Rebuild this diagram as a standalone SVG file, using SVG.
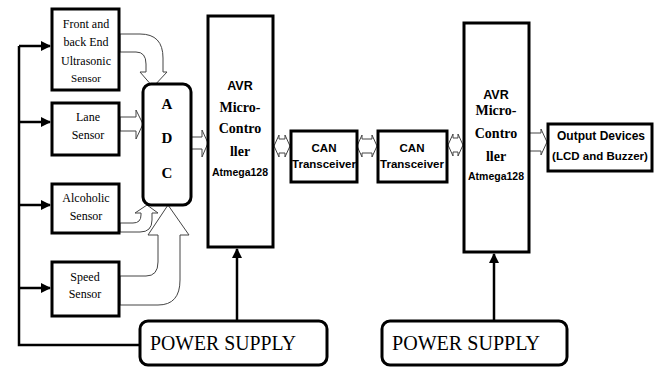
<svg xmlns="http://www.w3.org/2000/svg" width="661" height="367" viewBox="0 0 661 367">
<style>
.box{fill:#fff;stroke:#000;stroke-width:3}
.serif{font-family:"Liberation Serif","Times New Roman",serif;fill:#000;text-anchor:middle}
.sans{font-family:"Liberation Sans",Arial,sans-serif;fill:#000;text-anchor:middle;font-weight:bold}
.sens{font-size:12px}
.sb{font-family:"Liberation Serif","Times New Roman",serif;font-weight:700;fill:#000;text-anchor:middle}
.hollow{fill:#fff;stroke:#444;stroke-width:1}
.bus{fill:none;stroke:#000;stroke-width:2.5}
</style>
<defs>
<marker id="ah" viewBox="0 0 10 10" refX="9" refY="5" markerWidth="4" markerHeight="4" orient="auto" markerUnits="strokeWidth">
<path d="M0,0 L10,5 L0,10 Z" fill="#000"/>
</marker>
</defs>
<rect width="661" height="367" fill="#fff"/>

<g id="connectors">
<path class="bus" d="M19,46 V345 H140"/>
<line class="bus" x1="19" y1="46" x2="50" y2="46" marker-end="url(#ah)"/>
<line class="bus" x1="19" y1="122" x2="50" y2="122" marker-end="url(#ah)"/>
<line class="bus" x1="19" y1="205" x2="50" y2="205" marker-end="url(#ah)"/>
<line class="bus" x1="19" y1="288" x2="50" y2="288" marker-end="url(#ah)"/>
<line class="bus" x1="237" y1="321" x2="237" y2="249" marker-end="url(#ah)"/>
<line class="bus" x1="494" y1="321" x2="494" y2="254" marker-end="url(#ah)"/>

<path class="hollow" d="M120,34 H140 Q163,34 163,58 V72 H167 L153,87 L140,72 H146 V64 Q146,52 136,52 H120 Z"/>
<path class="hollow" d="M120,117 H136 V110 L143,124 L136,139 V131 H120 Z"/>
<path class="hollow" d="M191,137 H202 V130 L208,143 L202,157 V149 H191 Z"/>
<path class="hollow" d="M120,223 H133 Q141,223 141,215 V213 H135 L147,205 L158,213 H152 V220 Q152,232 140,232 H120 Z"/>
<path class="hollow" d="M120,276 H146 Q158,276 158,262 V235 H148 L168,205 L189,235 H180 V280 Q180,305 158,305 H120 Z"/>

<path class="hollow" d="M274,146 L279,135 V139 H285 V135 L290,146 L285,157 V153 H279 V157 Z"/>
<path class="hollow" d="M357,146 L362,135 V139 H372 V135 L377,146 L372,157 V153 H362 V157 Z"/>
<path class="hollow" d="M448,145 L453,134 V138 H458 V134 L463,145 L458,156 V152 H453 V156 Z"/>
<path class="hollow" d="M529,133 H541 V129 L547,142 L541,155 V151 H529 Z"/>
</g>

<g id="front-sensor">
<rect class="box" x="52" y="9" width="67" height="81"/>
<text class="serif sens" x="86" y="28">Front and</text>
<text class="serif sens" x="86" y="46">back End</text>
<text class="serif sens" x="86" y="65">Ultrasonic</text>
<text class="serif" x="86" y="82" font-size="11">Sensor</text>
</g>

<g id="lane-sensor">
<rect class="box" x="52" y="103" width="67" height="52"/>
<text class="serif sens" x="88" y="121">Lane</text>
<text class="serif sens" x="88" y="139">Sensor</text>
</g>

<g id="alcoholic-sensor">
<rect class="box" x="52" y="184" width="67" height="49"/>
<text class="serif sens" x="86" y="202">Alcoholic</text>
<text class="serif sens" x="86" y="220">Sensor</text>
</g>

<g id="speed-sensor">
<rect class="box" x="52" y="262" width="67" height="54"/>
<text class="serif sens" x="85" y="281">Speed</text>
<text class="serif sens" x="85" y="298">Sensor</text>
</g>

<g id="adc">
<rect class="box" x="143" y="84" width="48" height="121" rx="8"/>
<text class="sb" x="167" y="109" font-size="15">A</text>
<text class="sb" x="167" y="143" font-size="15">D</text>
<text class="sb" x="167" y="178" font-size="15">C</text>
</g>

<g id="avr1">
<rect class="box" x="208" y="16" width="65" height="231"/>
<text class="sans" x="240" y="90" font-size="12.5">AVR</text>
<text class="sb" x="240" y="112" font-size="14">Micro-</text>
<text class="sb" x="240" y="133" font-size="14">Contro</text>
<text class="sb" x="240" y="156" font-size="14">ller</text>
<text class="sans" x="240" y="176" font-size="10.5">Atmega128</text>
</g>

<g id="can1">
<rect class="box" x="291" y="131" width="66" height="51"/>
<text class="sans" x="324" y="152" font-size="11.5">CAN</text>
<text class="sans" x="324" y="168" font-size="11.5">Transceiver</text>
</g>

<g id="can2">
<rect class="box" x="378" y="131" width="69" height="51"/>
<text class="sans" x="412" y="152" font-size="11.5">CAN</text>
<text class="sans" x="412" y="168" font-size="11.5">Transceiver</text>
</g>

<g id="avr2">
<rect class="box" x="464" y="23" width="65" height="229"/>
<text class="sans" x="496" y="99" font-size="12.5">AVR</text>
<text class="sb" x="496" y="115" font-size="14">Micro-</text>
<text class="sb" x="496" y="138" font-size="14">Contro</text>
<text class="sb" x="496" y="161" font-size="14">ller</text>
<text class="sans" x="496" y="180" font-size="10.5">Atmega128</text>
</g>

<g id="output">
<rect class="box" x="548" y="124" width="104" height="47"/>
<text class="sans" x="601" y="140" font-size="12">Output Devices</text>
<text class="sans" x="600" y="160" font-size="11.5">(LCD and Buzzer)</text>
</g>

<g id="power1">
<rect class="box" x="140" y="321" width="187" height="44" rx="8"/>
<text class="serif" x="223" y="350" font-size="21" textLength="146" lengthAdjust="spacingAndGlyphs">POWER SUPPLY</text>
</g>

<g id="power2">
<rect class="box" x="382" y="321" width="185" height="44" rx="8"/>
<text class="serif" x="466" y="350" font-size="21" textLength="148" lengthAdjust="spacingAndGlyphs">POWER SUPPLY</text>
</g>
</svg>
